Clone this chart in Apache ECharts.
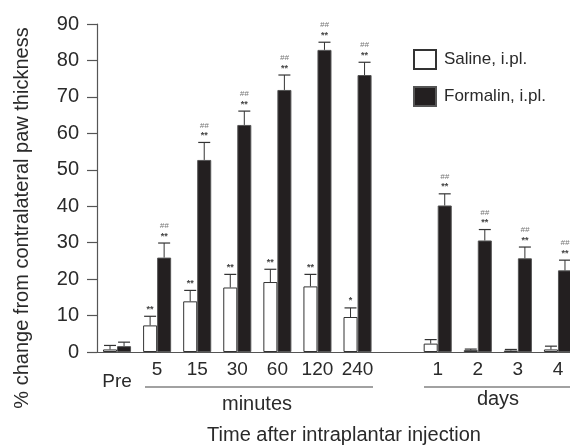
<!DOCTYPE html>
<html>
<head>
<meta charset="utf-8">
<script src="https://cdn.jsdelivr.net/npm/echarts@6/dist/echarts.min.js"></script>
<style>
  html, body { margin: 0; padding: 0; background: #fff; }
  #main { width: 570px; height: 445px; }
</style>
</head>
<body>
<div id="main"></div>
<script>
// x categories ('' is the gap between minutes and days)
var categories = ['Pre', '5', '15', '30', '60', '120', '240', '', '1', '2', '3', '4'];

// mean % change and upper SEM
var salineMean = [0.7, 7.3, 13.9, 17.7, 19.2, 18.0, 9.6, null, 2.3, 0.5, 0.4, 0.7];
var salineErr = [1.1, 2.5, 3.0, 3.6, 3.5, 3.3, 2.5, null, 1.1, 0.3, 0.3, 0.9];
var formalinMean = [1.6, 25.9, 52.7, 62.3, 71.9, 82.9, 76.0, null, 40.2, 30.6, 25.7, 22.4];
var formalinErr = [1.1, 4.0, 4.8, 3.8, 4.1, 2.1, 3.5, null, 3.2, 3.0, 3.1, 2.8];

// significance marks
var salineStar = ['', '**', '**', '**', '**', '**', '*', '', '', '', '', ''];
var salineHash = ['', '', '', '', '', '', '', '', '', '', '', ''];
var formalinStar = ['', '**', '**', '**', '**', '**', '**', '', '**', '**', '**', '**'];
var formalinHash = ['', '##', '##', '##', '##', '##', '##', '', '##', '##', '##', '##'];

var yTicks = [0, 10, 20, 30, 40, 50, 60, 70, 80, 90];

var FONT = '"Liberation Sans", Arial, Helvetica, sans-serif';
var TXT = '#2a2a2a';

// error bar + marks, side -1 = saline, 1 = formalin
function errorSeries(side, mean, err, star, hash) {
    return {
        type: 'custom',
        silent: true,
        z: 5,
        data: mean.map(function (v, i) { return [i, v == null ? 0 : v + err[i]]; }),
        encode: { x: 0, y: 1 },
        renderItem: function (params, api) {
            var i = params.dataIndex;
            if (mean[i] == null) return null;
            var band = api.size([1, 0])[0];
            var cx = api.coord([i, 0])[0] + side * band * 0.175;
            var yBase = api.coord([i, mean[i]])[1];
            var yTop = api.coord([i, mean[i] + err[i]])[1];
            var lc = '#333';
            var kids = [
                { type: 'line', shape: { x1: cx, y1: yBase, x2: cx, y2: yTop }, style: { stroke: lc, lineWidth: 1 } },
                { type: 'line', shape: { x1: cx - 6, y1: yTop, x2: cx + 6, y2: yTop }, style: { stroke: lc, lineWidth: 1.2 } }
            ];
            if (star[i]) {
                kids.push({ type: 'text', style: { x: cx, y: yTop - 7, text: star[i], align: 'center', verticalAlign: 'middle', fontSize: 9, fontWeight: 'bold', fill: '#444', fontFamily: FONT } });
            }
            if (hash[i]) {
                kids.push({ type: 'text', style: { x: cx, y: yTop - 17, text: hash[i], align: 'center', verticalAlign: 'middle', fontSize: 8, fontStyle: 'italic', fill: '#777', fontFamily: FONT } });
            }
            return { type: 'group', children: kids };
        }
    };
}

var option = {
    animation: false,
    textStyle: { fontFamily: FONT },
    grid: { left: 97, right: -8, top: 24, bottom: 93, outerBoundsMode: 'none' },
    legend: {
        data: ['Saline, i.pl.', 'Formalin, i.pl.'],
        orient: 'vertical',
        left: 408,
        top: 44,
        itemWidth: 22,
        itemHeight: 19,
        itemGap: 16,
        selectedMode: false,
        icon: 'rect',
        textStyle: { fontSize: 17, color: TXT, fontFamily: FONT, padding: [0, 0, 0, 3] }
    },
    xAxis: {
        type: 'category',
        data: categories,
        axisTick: { show: false },
        axisLine: { lineStyle: { color: '#555', width: 1.2 } },
        axisLabel: {
            interval: 0,
            margin: 8,
            fontSize: 19,
            color: TXT,
            fontFamily: FONT,
            formatter: function (v) { return v === 'Pre' ? '{pre|Pre}' : v; },
            rich: { pre: { fontSize: 19, color: TXT, fontFamily: FONT, padding: [12, 0, 0, 0] } }
        }
    },
    yAxis: {
        type: 'value',
        min: yTicks[0],
        max: yTicks[yTicks.length - 1],
        interval: 10,
        splitLine: { show: false },
        axisLine: { show: true, lineStyle: { color: '#555', width: 1.2 } },
        axisTick: { show: true, length: 10, lineStyle: { color: '#555', width: 1.2 } },
        axisLabel: { margin: 18, fontSize: 20, color: TXT, fontFamily: FONT }
    },
    series: [
        {
            name: 'Saline, i.pl.',
            type: 'bar',
            barGap: '0%',
            barCategoryGap: '30%',
            data: salineMean,
            itemStyle: { color: '#fff', borderColor: '#333', borderWidth: 1 }
        },
        {
            name: 'Formalin, i.pl.',
            type: 'bar',
            barGap: '0%',
            barCategoryGap: '30%',
            data: formalinMean,
            itemStyle: { color: '#231f20', borderColor: '#555', borderWidth: 1 }
        },
        errorSeries(-1, salineMean, salineErr, salineStar, salineHash),
        errorSeries(1, formalinMean, formalinErr, formalinStar, formalinHash)
    ],
    graphic: [
        { type: 'text', x: 22, y: 218, rotation: Math.PI / 2,
          style: { text: '% change from contralateral paw thickness', align: 'center', verticalAlign: 'middle', fontSize: 20, fill: TXT, fontFamily: FONT } },
        { type: 'line', shape: { x1: 145, y1: 387, x2: 373, y2: 387 }, style: { stroke: '#444', lineWidth: 1.2 } },
        { type: 'line', shape: { x1: 424, y1: 387, x2: 570, y2: 387 }, style: { stroke: '#444', lineWidth: 1.2 } },
        { type: 'text', x: 257, y: 404,
          style: { text: 'minutes', align: 'center', verticalAlign: 'middle', fontSize: 20, fill: TXT, fontFamily: FONT } },
        { type: 'text', x: 498, y: 399,
          style: { text: 'days', align: 'center', verticalAlign: 'middle', fontSize: 20, fill: TXT, fontFamily: FONT } },
        { type: 'text', x: 344, y: 435,
          style: { text: 'Time after intraplantar injection', align: 'center', verticalAlign: 'middle', fontSize: 20, fill: TXT, fontFamily: FONT } }
    ]
};

var myChart = echarts.init(document.getElementById('main'));
myChart.setOption(option);
</script>
</body>
</html>
